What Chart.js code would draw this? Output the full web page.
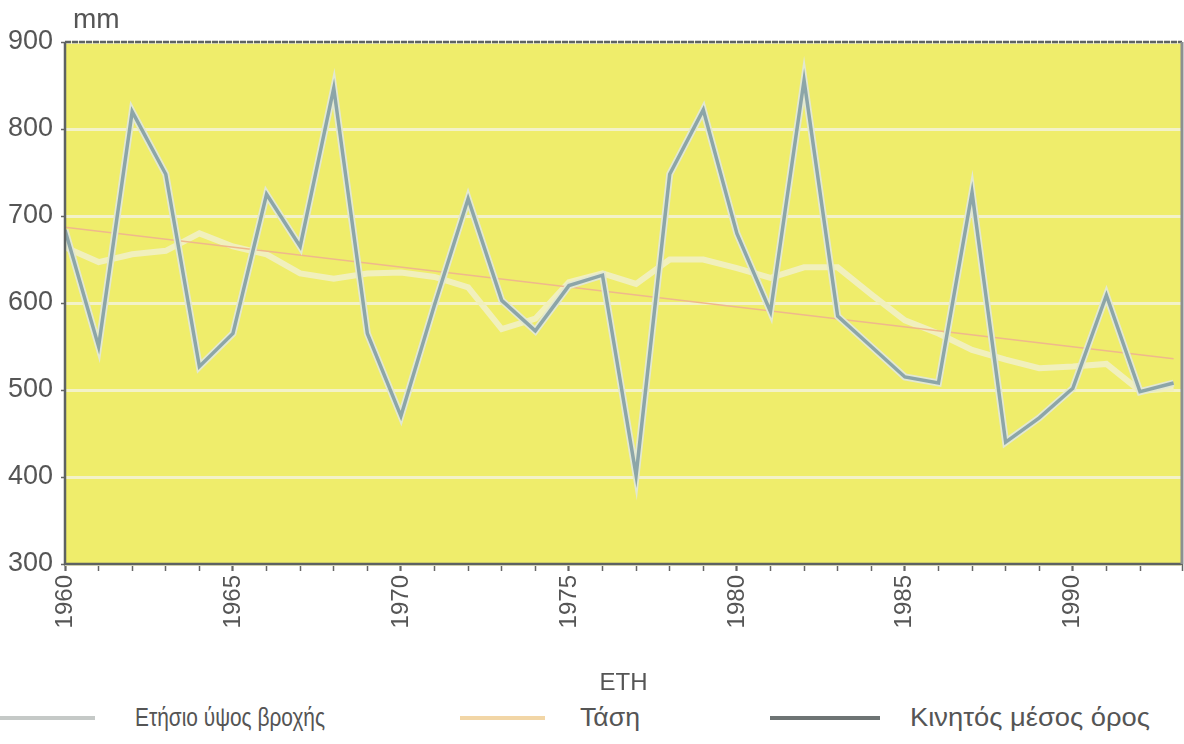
<!DOCTYPE html>
<html lang="el">
<head>
<meta charset="UTF-8">
<title>Ετήσιο ύψος βροχής</title>
<script src="https://cdn.jsdelivr.net/npm/chart.js"></script>
<style>
  body { margin: 0; background: #fff; }
  #wrap { position: relative; width: 1184px; height: 744px; font-family: "Liberation Sans", sans-serif; }
  #chartBox { position: absolute; left: 0; top: 0; width: 1184px; height: 700px; }
  .key { position: absolute; top: 716px; height: 4px; }
  .keyText { position: absolute; top: 703px; font-size: 25px; line-height: 28px; color: #555;
             white-space: nowrap; transform-origin: left center; }
</style>
</head>
<body>
<div id="wrap">
  <div id="chartBox"><canvas id="rainChart"></canvas></div>
  <div id="legend"></div>
</div>
<script>
// data (mm)
const years = [1960, 1961, 1962, 1963, 1964, 1965, 1966, 1967, 1968, 1969,
               1970, 1971, 1972, 1973, 1974, 1975, 1976, 1977, 1978, 1979,
               1980, 1981, 1982, 1983, 1984, 1985, 1986, 1987, 1988, 1989,
               1990, 1991, 1992, 1993];
const annualRain = [684, 550, 820, 748, 527, 565, 725, 665, 847, 565,
                    470, 598, 720, 603, 568, 620, 632, 402, 748, 822,
                    680, 590, 856, 585, 550, 515, 508, 727, 440, 468,
                    502, 609, 498, 508];
const movingAvg = [664, 647, 656, 660, 680, 665, 656, 634, 628, 634,
                   635, 630, 618, 570, 582, 624, 634, 622, 650, 650,
                   640, 629, 641, 641, 610, 580, 565, 546, 535, 525,
                   527, 530, 499, 502];
const trendYears = [1960, 1993];
const trendValues = [687, 536];
const seriesNames = ['Ετήσιο ύψος βροχής', 'Τάση', 'Κινητός μέσος όρος'];
const legendColors = ['#c5c9c7', '#f2d6a6', '#6e7474'];

const toPoints = (xs, ys) => xs.map((x, i) => ({ x: x, y: ys[i] }));

const plotFrame = {
    id: 'plotFrame',
    beforeDraw(chart) {
        const { ctx, chartArea: a } = chart;
        ctx.save();
        ctx.fillStyle = '#efed6b';
        ctx.fillRect(a.left, a.top, a.right - a.left, a.bottom - a.top);
        ctx.restore();
    },
    afterDatasetsDraw(chart) {
        const { ctx, chartArea: a } = chart;
        ctx.save();
        ctx.strokeStyle = '#5d6262';
        ctx.lineWidth = 2.5;
        ctx.setLineDash([6, 1]);
        ctx.beginPath();
        ctx.moveTo(a.left, a.top);
        ctx.lineTo(a.right, a.top);
        ctx.stroke();
        ctx.setLineDash([]);
        ctx.beginPath();
        ctx.moveTo(a.left, a.top);
        ctx.lineTo(a.left, a.bottom);
        ctx.lineTo(a.right, a.bottom);
        ctx.stroke();
        ctx.strokeStyle = '#8c9090';
        ctx.lineWidth = 3;
        ctx.beginPath();
        ctx.moveTo(a.right, a.top);
        ctx.lineTo(a.right, a.bottom);
        ctx.stroke();
        // unit label above the y axis
        ctx.fillStyle = '#555';
        ctx.font = '28px "Liberation Sans"';
        ctx.textBaseline = 'alphabetic';
        ctx.fillText('mm', 73, 28);
        ctx.restore();
    }
};

const sans = '"Liberation Sans", sans-serif';

new Chart(document.getElementById('rainChart'), {
    type: 'line',
    data: {
        datasets: [
            { label: seriesNames[0], data: toPoints(years, annualRain),
              borderColor: '#8ca5a8', borderWidth: 3.5, pointRadius: 0, tension: 0 },
            { label: seriesNames[0] + ' halo', data: toPoints(years, annualRain),
              borderColor: '#e2e8d2', borderWidth: 7, pointRadius: 0, tension: 0 },
            { label: seriesNames[1], data: toPoints(trendYears, trendValues),
              borderColor: '#efb88c', borderWidth: 1.5, pointRadius: 0 },
            { label: seriesNames[2], data: toPoints(years, movingAvg),
              borderColor: '#f1f0bd', borderWidth: 6, pointRadius: 0, tension: 0 }
        ]
    },
    options: {
        responsive: true,
        maintainAspectRatio: false,
        animation: false,
        layout: { padding: { top: 42, right: 2, left: 0, bottom: 0 } },
        plugins: {
            legend: { display: false },
            tooltip: { enabled: false }
        },
        scales: {
            x: {
                type: 'linear',
                min: 1960,
                max: 1993.25,
                afterFit(s) { s.height = 136; s.paddingLeft = 0; s.paddingRight = 0; },
                border: { display: false },
                grid: {
                    drawOnChartArea: false,
                    tickLength: 7,
                    tickColor: '#666',
                    tickWidth: c => (c.tick && c.tick.value % 5 === 0) ? 2.2 : 1.5
                },
                ticks: {
                    stepSize: 1,
                    autoSkip: false,
                    minRotation: 90,
                    maxRotation: 90,
                    padding: 4,
                    color: '#555',
                    font: { family: sans, size: 24 },
                    callback: v => (v % 5 === 0) ? String(v) : ''
                },
                title: {
                    display: true,
                    text: 'ΕΤΗ',
                    color: '#555',
                    font: { family: sans, size: 24 },
                    padding: { top: 0, bottom: 2 }
                }
            },
            y: {
                min: 300,
                max: 900,
                afterFit(s) { s.width = 65; },
                border: { display: false },
                grid: { color: '#f3f2c8', lineWidth: 3, tickLength: 4, tickColor: '#666', tickWidth: 1.5 },
                ticks: {
                    stepSize: 100,
                    padding: 8,
                    color: '#555',
                    font: { family: sans, size: 27 }
                }
            }
        }
    },
    plugins: [plotFrame]
});

// legend under the chart, laid out like the printed key (narrowed type)
const keyLeft = [0, 460, 770];
const keyWidth = [95, 85, 110];
const textLeft = [135, 580, 910];
const textWidth = [190, 60, 240];
const legend = document.getElementById('legend');
seriesNames.forEach((name, i) => {
    const line = document.createElement('div');
    line.className = 'key';
    line.style.left = keyLeft[i] + 'px';
    line.style.width = keyWidth[i] + 'px';
    line.style.background = legendColors[i];
    legend.appendChild(line);
    const txt = document.createElement('div');
    txt.className = 'keyText';
    txt.style.left = textLeft[i] + 'px';
    txt.textContent = name;
    legend.appendChild(txt);
    const w = txt.getBoundingClientRect().width;
    txt.style.transform = 'scaleX(' + (textWidth[i] / w).toFixed(3) + ')';
});
</script>
</body>
</html>
